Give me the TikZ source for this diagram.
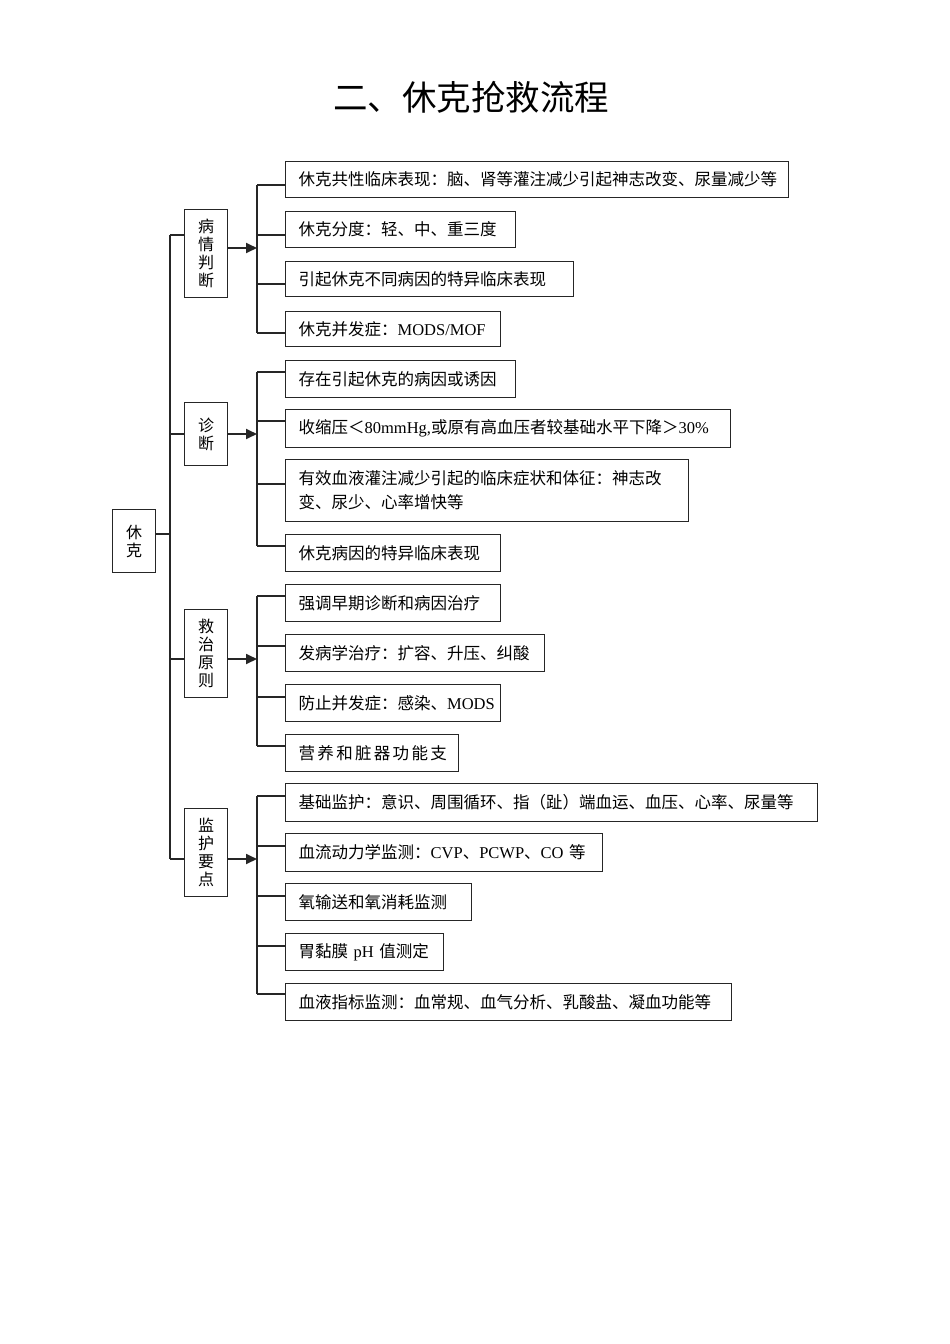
\documentclass[tikz,border=0pt]{standalone}
\usepackage{fontspec}
\setmainfont{Liberation Serif}
\newfontfamily\cjk{Noto Sans CJK SC}
\newfontfamily\cjkwide[LetterSpace=14]{Noto Sans CJK SC}
\usetikzlibrary{arrows.meta}
\newcommand\latn[1]{{\rmfamily #1}}
\tikzset{
  conn/.style={draw=black!85, line width=1.3pt},
  arr/.style={conn, line width=1.8pt, -{Triangle[length=11pt,width=10pt]}},
  leaf/.style={draw=black!85, line width=1.3pt, anchor=north west, inner xsep=13pt, inner ysep=0pt,
    align=left, font=\cjk\fontsize{16.5}{24}\selectfont},
  midbox/.style={draw=black!85, line width=1.3pt, anchor=north west, inner sep=0pt, minimum width=43pt,
    align=center, font=\cjk\fontsize{16}{18}\selectfont},
}
\newcommand\leafbox[6]{%
  \node[leaf, text width=#3, minimum height=#4] (#1) at (285,#2) {#6};
  \draw[conn] (257,#5) -- (#1.west |- 0,#5);
}
\begin{document}
\begin{tikzpicture}[x=1pt,y=-1pt]
\useasboundingbox[fill=white] (0,0) rectangle (950,1344);

\node[font=\cjk\fontsize{34.5}{36}\selectfont] (title) at (471,97) {二、休克抢救流程};

% root
\node[midbox, minimum width=43pt, minimum height=63pt] (xk) at (112,509) {休\\克};

% level 2
\node[midbox, minimum height=88pt] (m1) at (184,209) {病\\情\\判\\断};
\node[midbox, minimum height=63pt] (m2) at (184,402) {诊\\断};
\node[midbox, minimum height=88pt] (m3) at (184,609) {救\\治\\原\\则};
\node[midbox, minimum height=88pt] (m4) at (184,808) {监\\护\\要\\点};

% trunk
\coordinate (ttop) at (170,235);
\coordinate (tbot) at (170,859);
\draw[conn] (ttop) -- (tbot);
\draw[conn, line width=1.8pt] (xk.east |- 0,534) -- (170,534);
\draw[conn] (ttop) -- (m1.west |- ttop);
\draw[conn] (170,434) -- (m2.west |- 0,434);
\draw[conn, line width=1.8pt] (170,659) -- (m3.west |- 0,659);
\draw[conn] (tbot) -- (m4.west |- tbot);

% brackets
\coordinate (g1a) at (257,185); \coordinate (g1b) at (257,333);
\coordinate (g2a) at (257,372); \coordinate (g2b) at (257,546);
\coordinate (g3a) at (257,596); \coordinate (g3b) at (257,746);
\coordinate (g4a) at (257,796); \coordinate (g4b) at (257,994);
\draw[conn] (g1a) -- (g1b);
\draw[conn] (g2a) -- (g2b);
\draw[conn] (g3a) -- (g3b);
\draw[conn] (g4a) -- (g4b);

\coordinate (p1) at (257,248);
\coordinate (p2) at (257,434);
\coordinate (p3) at (257,659);
\coordinate (p4) at (257,859);
\draw[arr] (m1.east |- p1) -- (p1);
\draw[arr] (m2.east |- p2) -- (p2);
\draw[arr] (m3.east |- p3) -- (p3);
\draw[arr] (m4.east |- p4) -- (p4);

% group 1
\leafbox{a1}{161}{477pt}{36pt}{185}{休克共性临床表现：脑、肾等灌注减少引起神志改变、尿量减少等}
\leafbox{a2}{211}{204pt}{36pt}{235}{休克分度：轻、中、重三度}
\leafbox{a3}{261}{262pt}{35pt}{284}{引起休克不同病因的特异临床表现}
\leafbox{a4}{311}{189pt}{35pt}{333}{休克并发症：\latn{MODS/MOF}}

% group 2
\leafbox{b1}{360}{204pt}{37pt}{372}{存在引起休克的病因或诱因}
\leafbox{b2}{409}{419pt}{38pt}{421}{收缩压＜\latn{80mmHg,}或原有高血压者较基础水平下降＞\latn{30\%}}
\leafbox{b3}{459}{377pt}{62pt}{484}{有效血液灌注减少引起的临床症状和体征：神志改\\变、尿少、心率增快等}
\leafbox{b4}{534}{189pt}{37pt}{546}{休克病因的特异临床表现}

% group 3
\leafbox{c1}{584}{189pt}{37pt}{596}{强调早期诊断和病因治疗}
\leafbox{c2}{634}{233pt}{37pt}{646}{发病学治疗：扩容、升压、纠酸}
\leafbox{c3}{684}{189pt}{37pt}{697}{防止并发症：感染、\latn{MODS}}
\leafbox{c4}{734}{147pt}{37pt}{746}{{\cjkwide 营养和脏器功能支}}

% group 4
\leafbox{d1}{783}{506pt}{38pt}{796}{基础监护：意识、周围循环、指（趾）端血运、血压、心率、尿量等}
\leafbox{d2}{833}{291pt}{38pt}{846}{血流动力学监测：\latn{CVP}、\latn{PCWP}、\latn{CO} 等}
\leafbox{d3}{883}{160pt}{37pt}{896}{氧输送和氧消耗监测}
\leafbox{d4}{933}{132pt}{37pt}{946}{胃黏膜 \latn{pH} 值测定}
\leafbox{d5}{983}{420pt}{37pt}{994}{血液指标监测：血常规、血气分析、乳酸盐、凝血功能等}

\end{tikzpicture}
\end{document}
